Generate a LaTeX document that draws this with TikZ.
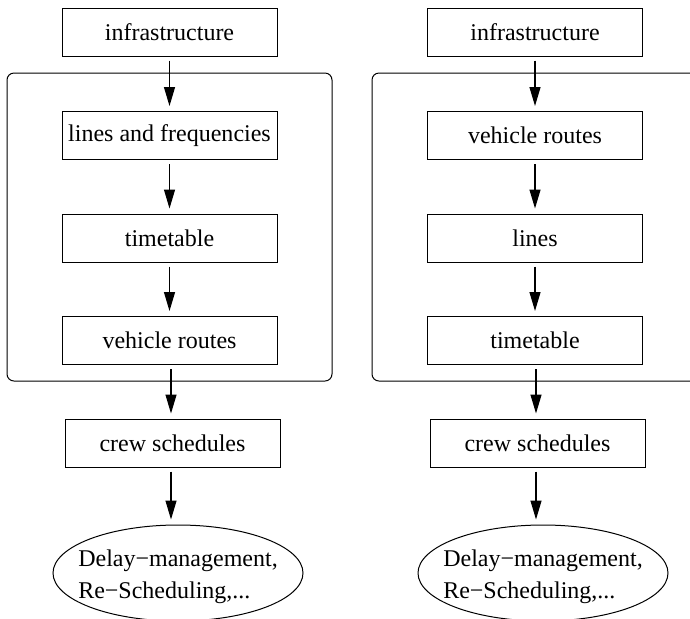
\documentclass[tikz,border=0pt]{standalone}
\usepackage{fontspec}
\setmainfont{Liberation Serif}
\usepackage{tikz}
\usetikzlibrary{arrows.meta,shapes.geometric}
\tikzset{>={Triangle[length=9.5pt,width=5.5pt]}}
\tikzset{
  stage/.style={draw,line width=0.5pt,minimum width=107.5pt,minimum height=24pt,inner sep=0pt,font=\fontsize{12}{14}\selectfont},
  outcome/.style={draw,ellipse,line width=0.5pt,minimum width=125pt,minimum height=48pt,inner sep=0pt},
  flow/.style={->,line width=0.6pt,shorten <=2pt,shorten >=2.5pt},
  frame/.style={draw,line width=0.5pt,rounded corners=3.5pt}
}

\begin{document}
\begin{tikzpicture}[x=0.5pt,y=-0.5pt]
    \useasboundingbox (0,0) rectangle (690,618);
    \clip (0,0) rectangle (690,618);
      \draw[frame] (7,73) rectangle (332,381);
      \draw[frame] (372,73) rectangle (730,381);
      \node[stage] (infraL) at (169.5,32) {infrastructure};
      \node[stage] (linesL) at (169.5,135.5) {lines and frequencies};
      \node[stage] (ttL) at (169.5,238) {timetable};
      \node[stage] (vrL) at (169.5,340.5) {vehicle routes};
      \node[stage] (crewL) at (172.5,443) {crew schedules};
      \node[outcome,label={[align=left,yshift=-2pt,font=\fontsize{12}{16}\selectfont]center:{Delay−management,\\Re−Scheduling,...}}] (delayL) at (178,573) {};
      \node[stage] (infraR) at (535,32) {infrastructure};
      \node[stage] (vrR) at (535,135.5) {vehicle routes};
      \node[stage] (linesR) at (535,238) {lines};
      \node[stage] (ttR) at (535,340.5) {timetable};
      \node[stage] (crewR) at (537.5,443) {crew schedules};
      \node[outcome,label={[align=left,yshift=-2pt,font=\fontsize{12}{16}\selectfont]center:{Delay−management,\\Re−Scheduling,...}}] (delayR) at (543,573) {};
      \draw[flow] (infraL.south) -- (infraL.south |- linesL.north);
      \draw[flow] (linesL.south) -- (linesL.south |- ttL.north);
      \draw[flow] (ttL.south) -- (ttL.south |- vrL.north);
      \draw[flow] (vrL.south -| 171,0) -- (crewL.north -| 171,0);
      \draw[flow] (crewL.south -| 171,0) -- (delayL.north -| 171,0);
      \draw[flow] (infraR.south) -- (infraR.south |- vrR.north);
      \draw[flow] (vrR.south) -- (vrR.south |- linesR.north);
      \draw[flow] (linesR.south) -- (linesR.south |- ttR.north);
      \draw[flow] (ttR.south -| 536,0) -- (crewR.north -| 536,0);
      \draw[flow] (crewR.south -| 536,0) -- (delayR.north -| 536,0);
     \end{tikzpicture}
\end{document}
